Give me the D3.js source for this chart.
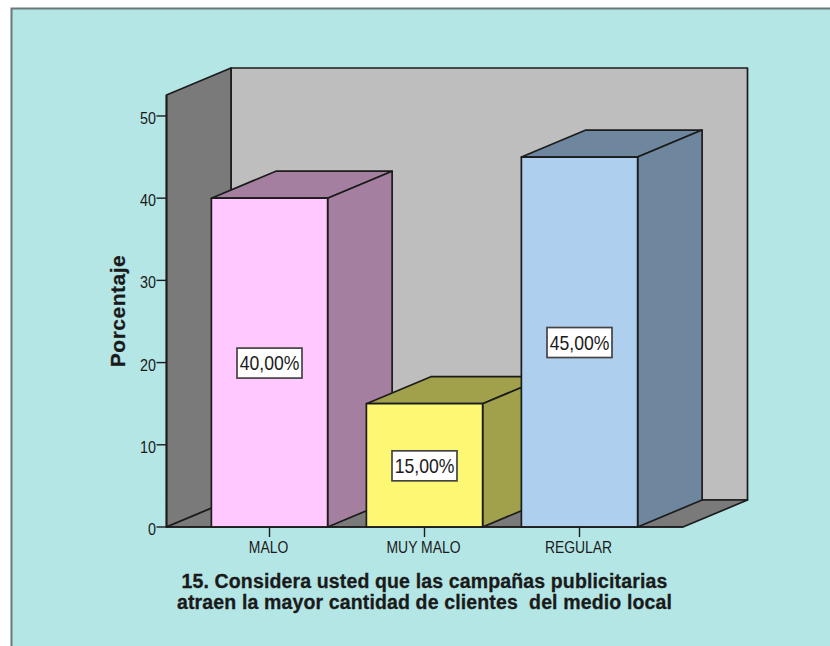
<!DOCTYPE html>
<html><head><meta charset="utf-8">
<script src="https://cdn.jsdelivr.net/npm/d3@7/dist/d3.min.js"></script>
<style>html,body{margin:0;padding:0;background:#fff;overflow:hidden}svg{display:block}text{font-family:"Liberation Sans",Arial,sans-serif;fill:#1a1a1a}</style>
</head><body><svg id="c" width="830" height="646"></svg>
<script>
const categories = ["MALO","MUY MALO","REGULAR"];
const values = [40,15,45];
const labels = ["40,00%","15,00%","45,00%"];
const frontColors = ["#ffc8ff","#fcf873","#aed0ee"];
const sideColors = ["#a57fa0","#a1a04b","#6e879e"];
const yTicks = [0,10,20,30,40,50];
const titleLines = ["15. Considera usted que las campañas publicitarias","atraen la mayor cantidad de clientes  del medio local"];
const yTitle = "Porcentaje";
const yMaxValue = 52.55;

const svg = d3.select("#c");
const y = d3.scaleLinear().domain([0,yMaxValue]).range([527,95]);
const x = d3.scaleBand().domain(categories).range([192,657]).paddingInner(0.25).paddingOuter(0.125);
const dx = 64.5, dy = -27;
const L = 166.5, R = 683, B = y(0), T = y(yMaxValue);
const stroke = "#1c1c1c";
const poly = (pts,fill,sw=1.7)=>svg.append("path").attr("d",d3.line()(pts)+"Z").attr("fill",fill).attr("stroke",stroke).attr("stroke-width",sw).attr("stroke-linejoin","round");
const squeezed = (px,py,str,size,sx,anchor)=>svg.append("text")
  .attr("transform",`translate(${px},${py}) scale(${sx},1)`).attr("text-anchor",anchor).attr("font-size",size).text(str);

svg.append("rect").attr("x",11.5).attr("y",8.5).attr("width",840).attr("height",660).attr("fill","#b5e6e6").attr("stroke","#6a7878").attr("stroke-width",2);

poly([[L+dx,T+dy],[R+dx,T+dy],[R+dx,B+dy],[L+dx,B+dy]],"#bebebe");
poly([[L,T],[L+dx,T+dy],[L+dx,B+dy],[L,B]],"#7a7a7a");
poly([[L,B],[L+dx,B+dy],[R+dx,B+dy],[R,B]],"#7a7a7a");

categories.forEach((c,i)=>{
  const x0 = x(c), x1 = x0+x.bandwidth(), t = y(values[i]);
  poly([[x0,t],[x0+dx,t+dy],[x1+dx,t+dy],[x1,t]],sideColors[i]);
  poly([[x1,t],[x1+dx,t+dy],[x1+dx,B+dy],[x1,B]],sideColors[i]);
  poly([[x0,t],[x1,t],[x1,B],[x0,B]],frontColors[i]);
});

svg.append("line").attr("x1",L).attr("x2",R).attr("y1",B).attr("y2",B).attr("stroke",stroke).attr("stroke-width",1.7);
svg.append("line").attr("x1",L).attr("x2",L).attr("y1",T).attr("y2",B).attr("stroke",stroke).attr("stroke-width",1.7);

categories.forEach((c,i)=>{
  const cx = x(c)+x.bandwidth()/2, cy = y(values[i]/2);
  svg.append("rect").attr("x",cx-32.5).attr("y",cy-14.5).attr("width",65).attr("height",30).attr("fill","#fff").attr("stroke","#444").attr("stroke-width",1.7);
  squeezed(cx,cy+7.5,labels[i],20,0.88,"middle");
  svg.append("line").attr("x1",cx).attr("x2",cx).attr("y1",B).attr("y2",B+10).attr("stroke",stroke).attr("stroke-width",1.4);
  squeezed(cx-1,553,c,16,0.87,"middle");
});

yTicks.forEach(t=>{
  svg.append("line").attr("x1",L-10).attr("x2",L).attr("y1",y(t)).attr("y2",y(t)).attr("stroke",stroke).attr("stroke-width",1.4);
  squeezed(L-10.5,y(t)+8,t,16.5,0.87,"end");
});

svg.append("text").attr("transform","translate(124.5,311) rotate(-90)").attr("text-anchor","middle").attr("font-size",21).attr("font-weight","bold").attr("letter-spacing",0.5).attr("stroke","#1a1a1a").attr("stroke-width",0.25).text(yTitle);
titleLines.forEach((s,i)=>{
  svg.append("text").attr("x",424.5).attr("y",588+i*21).attr("text-anchor","middle").attr("font-size",19.5).attr("font-weight","bold").attr("letter-spacing",0.14).attr("stroke","#1a1a1a").attr("stroke-width",0.3).attr("xml:space","preserve").text(s);
});
</script></body></html>
